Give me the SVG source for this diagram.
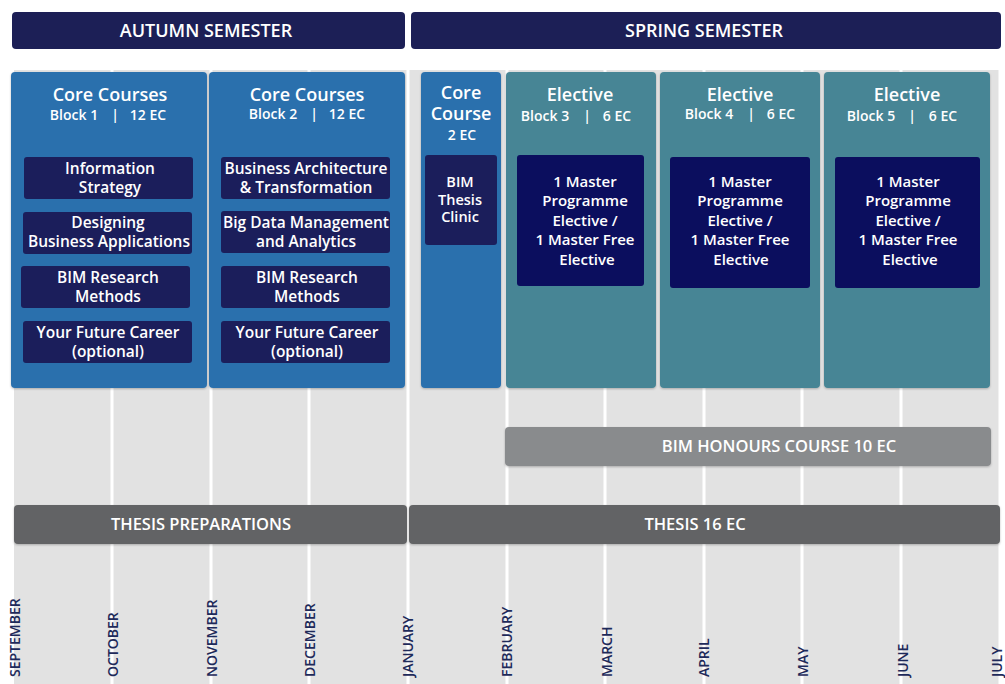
<svg xmlns="http://www.w3.org/2000/svg" width="1005" height="684" viewBox="0 0 1005 684">
<style>
text{font-family:"Open Sans","Liberation Sans",sans-serif;font-weight:600;fill:#fff;text-anchor:middle}
.hdr{font-size:18px}
.ttl{font-size:18px}
.sub{font-size:14px}
.in{font-size:15.5px}
.el{font-size:15px}
.bar{font-size:16.5px}
.mon{font-size:14px;fill:#1e2a5a;text-anchor:start}
.navy{fill:#1c1f56}
.core{fill:#2b70ad}
.teal{fill:#478595}
.inC{fill:#1b1e5b}
.inE{fill:#0b0e5e}
.line{stroke:#fff;stroke-width:3}
</style>
<defs>
<filter id="sh" x="-5%" y="-5%" width="110%" height="115%"><feDropShadow dx="0" dy="1" stdDeviation="1" flood-color="#000" flood-opacity="0.25"/></filter>
</defs>
<rect width="1005" height="684" fill="#fff"/>
<rect x="14" y="70" width="986" height="614" fill="#e2e2e2"/>
<g id="month-lines">
<line class="line" x1="112" y1="70" x2="112" y2="684"/>
<line class="line" x1="211" y1="70" x2="211" y2="684"/>
<line class="line" x1="309" y1="70" x2="309" y2="684"/>
<line class="line" x1="408" y1="70" x2="408" y2="684"/>
<line class="line" x1="507" y1="70" x2="507" y2="684"/>
<line class="line" x1="605" y1="70" x2="605" y2="684"/>
<line class="line" x1="704" y1="70" x2="704" y2="684"/>
<line class="line" x1="802" y1="70" x2="802" y2="684"/>
<line class="line" x1="901" y1="70" x2="901" y2="684"/>
<line class="line" x1="1000" y1="70" x2="1000" y2="684"/>
</g>
<g id="autumn-header">
<rect class="navy" x="12" y="12" width="393" height="37" rx="4"/>
<text class="hdr" x="206" y="37">AUTUMN SEMESTER</text>
</g>
<g id="spring-header">
<rect class="navy" x="411" y="12" width="590" height="37" rx="4"/>
<text class="hdr" x="704" y="37">SPRING SEMESTER</text>
</g>
<g id="core-block-1">
<rect class="core" x="11" y="72" width="196" height="316" rx="4" filter="url(#sh)"/>
<text class="ttl" x="110" y="101">Core Courses</text>
<text class="sub" x="74" y="120">Block 1</text><text class="sub" x="115" y="120">|</text><text class="sub" x="148" y="120">12 EC</text>
<rect class="inC" x="24" y="157" width="169" height="42" rx="3"/>
<text class="in" x="110" y="174">Information</text><text class="in" x="110" y="193">Strategy</text>
<rect class="inC" x="23" y="212" width="169" height="42" rx="3"/>
<text class="in" x="108" y="228">Designing</text><text class="in" x="109" y="247">Business Applications</text>
<rect class="inC" x="21" y="266" width="169" height="42" rx="3"/>
<text class="in" x="108" y="283">BIM Research</text><text class="in" x="108" y="302">Methods</text>
<rect class="inC" x="23" y="321" width="169" height="42" rx="3"/>
<text class="in" x="108" y="338">Your Future Career</text><text class="in" x="108" y="357">(optional)</text>
</g>
<g id="core-block-2">
<rect class="core" x="209" y="72" width="196" height="316" rx="4" filter="url(#sh)"/>
<text class="ttl" x="307" y="101">Core Courses</text>
<text class="sub" x="273" y="119">Block 2</text><text class="sub" x="314" y="119">|</text><text class="sub" x="347" y="119">12 EC</text>
<rect class="inC" x="221" y="157" width="169" height="42" rx="3"/>
<text class="in" x="306" y="174">Business Architecture</text><text class="in" x="306" y="193">&amp; Transformation</text>
<rect class="inC" x="221" y="211" width="169" height="42" rx="3"/>
<text class="in" x="306" y="228">Big Data Management</text><text class="in" x="306" y="247">and Analytics</text>
<rect class="inC" x="221" y="266" width="169" height="42" rx="3"/>
<text class="in" x="307" y="283">BIM Research</text><text class="in" x="307" y="302">Methods</text>
<rect class="inC" x="221" y="321" width="169" height="42" rx="3"/>
<text class="in" x="307" y="338">Your Future Career</text><text class="in" x="307" y="357">(optional)</text>
</g>
<g id="core-course-spring">
<rect class="core" x="421" y="72" width="80" height="316" rx="4" filter="url(#sh)"/>
<text class="ttl" x="461" y="99">Core</text><text class="ttl" x="461" y="120">Course</text>
<text class="sub" x="462" y="140">2 EC</text>
<rect class="inC" x="425" y="155" width="72" height="90" rx="3"/>
<text class="in" x="460" y="187" style="font-size:14.5px">BIM</text><text class="in" x="460" y="205" style="font-size:14.5px">Thesis</text><text class="in" x="460" y="222" style="font-size:14.5px">Clinic</text>
</g>
<g id="elective-block-3">
<rect class="teal" x="506" y="72" width="150" height="316" rx="4" filter="url(#sh)"/>
<text class="ttl" x="580" y="101">Elective</text>
<text class="sub" x="545" y="121">Block 3</text><text class="sub" x="587" y="121">|</text><text class="sub" x="617" y="121">6 EC</text>
<rect class="inE" x="517" y="155" width="127" height="131" rx="3"/>
<text class="el" x="585" y="187">1 Master</text><text class="el" x="585" y="206">Programme</text><text class="el" x="585" y="226">Elective /</text><text class="el" x="585" y="245">1 Master Free</text><text class="el" x="587" y="265">Elective</text>
</g>
<g id="elective-block-4">
<rect class="teal" x="660" y="72" width="160" height="316" rx="4" filter="url(#sh)"/>
<text class="ttl" x="740" y="101">Elective</text>
<text class="sub" x="709" y="119">Block 4</text><text class="sub" x="751" y="119">|</text><text class="sub" x="781" y="119">6 EC</text>
<rect class="inE" x="670" y="157" width="140" height="131" rx="3"/>
<text class="el" x="740" y="187">1 Master</text><text class="el" x="740" y="206">Programme</text><text class="el" x="740" y="226">Elective /</text><text class="el" x="740" y="245">1 Master Free</text><text class="el" x="741" y="265">Elective</text>
</g>
<g id="elective-block-5">
<rect class="teal" x="824" y="72" width="166" height="316" rx="4" filter="url(#sh)"/>
<text class="ttl" x="907" y="101">Elective</text>
<text class="sub" x="871" y="121">Block 5</text><text class="sub" x="912" y="121">|</text><text class="sub" x="943" y="121">6 EC</text>
<rect class="inE" x="835" y="157" width="145" height="131" rx="3"/>
<text class="el" x="908" y="187">1 Master</text><text class="el" x="908" y="206">Programme</text><text class="el" x="908" y="226">Elective /</text><text class="el" x="908" y="245">1 Master Free</text><text class="el" x="910" y="265">Elective</text>
</g>
<g id="bim-honours">
<rect x="505" y="427" width="486" height="39" rx="4" fill="#898b8d" filter="url(#sh)"/>
<text class="bar" x="779" y="452">BIM HONOURS COURSE 10 EC</text>
</g>
<g id="thesis-preparations">
<rect x="14" y="505" width="393" height="39" rx="4" fill="#626465" filter="url(#sh)"/>
<text class="bar" x="201" y="530">THESIS PREPARATIONS</text>
</g>
<g id="thesis">
<rect x="409" y="505" width="591" height="39" rx="4" fill="#626465" filter="url(#sh)"/>
<text class="bar" x="695" y="530">THESIS 16 EC</text>
</g>
<g id="months">
<text class="mon" transform="translate(20,677) rotate(-90)">SEPTEMBER</text>
<text class="mon" transform="translate(118,677) rotate(-90)">OCTOBER</text>
<text class="mon" transform="translate(217,677) rotate(-90)">NOVEMBER</text>
<text class="mon" transform="translate(314.5,677) rotate(-90)">DECEMBER</text>
<text class="mon" transform="translate(413,677) rotate(-90)">JANUARY</text>
<text class="mon" transform="translate(512,677) rotate(-90)">FEBRUARY</text>
<text class="mon" transform="translate(611.5,677) rotate(-90)">MARCH</text>
<text class="mon" transform="translate(709,677) rotate(-90)">APRIL</text>
<text class="mon" transform="translate(808,677) rotate(-90)">MAY</text>
<text class="mon" transform="translate(907.5,677) rotate(-90)">JUNE</text>
<text class="mon" transform="translate(1002,677) rotate(-90)">JULY</text>
</g>
</svg>
